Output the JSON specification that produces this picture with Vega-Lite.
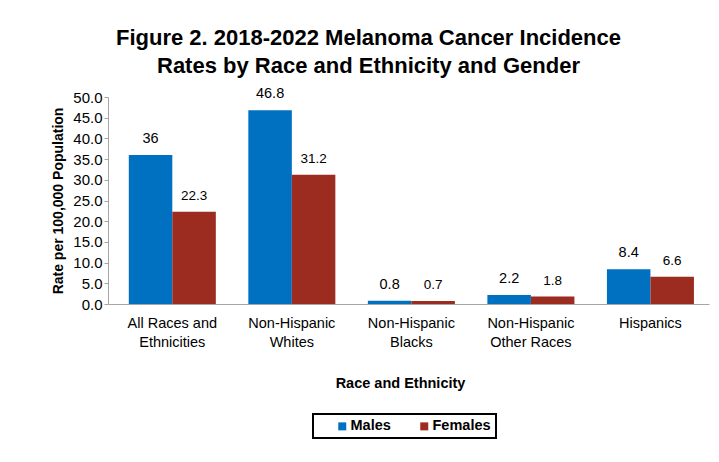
{
  "$schema": "https://vega.github.io/schema/vega-lite/v6.json",
  "width": 601,
  "height": 207,
  "autosize": {"type": "none"},
  "padding": {"left": 108, "top": 97, "right": 10, "bottom": 158},
  "background": "white",
  "config": {
    "font": "Liberation Sans",
    "view": {"stroke": null}
  },
  "title": {
    "text": ["Figure 2. 2018-2022 Melanoma Cancer Incidence", "Rates by Race and Ethnicity and Gender"],
    "font": "Liberation Sans",
    "fontSize": 22,
    "fontWeight": "bold",
    "color": "black",
    "anchor": "middle",
    "dx": -40,
    "offset": 8,
    "lineHeight": 28
  },
  "data": {
    "values": [
      {"group": "All Races and Ethnicities", "sex": "Males", "rate": 36},
      {"group": "All Races and Ethnicities", "sex": "Females", "rate": 22.3},
      {"group": "Non-Hispanic Whites", "sex": "Males", "rate": 46.8},
      {"group": "Non-Hispanic Whites", "sex": "Females", "rate": 31.2},
      {"group": "Non-Hispanic Blacks", "sex": "Males", "rate": 0.8},
      {"group": "Non-Hispanic Blacks", "sex": "Females", "rate": 0.7},
      {"group": "Non-Hispanic Other Races", "sex": "Males", "rate": 2.2},
      {"group": "Non-Hispanic Other Races", "sex": "Females", "rate": 1.8},
      {"group": "Hispanics", "sex": "Males", "rate": 8.4},
      {"group": "Hispanics", "sex": "Females", "rate": 6.6}
    ]
  },
  "encoding": {
    "x": {
      "field": "group",
      "type": "nominal",
      "sort": null,
      "scale": {"paddingInner": 0.272, "paddingOuter": 0.15, "align": 0.58},
      "axis": {
        "title": "Race and Ethnicity",
        "titleFontSize": 14.5,
        "titleFontWeight": "bold",
        "titleColor": "black",
        "titlePadding": 28,
        "titleX": 292,
        "labelAngle": 0,
        "labelFontSize": 14.5,
        "labelColor": "black",
        "labelPadding": 12,
        "labelLineHeight": 19,
        "ticks": false,
        "domainColor": "#a6a6a6",
        "labelExpr": "datum.label == 'All Races and Ethnicities' ? ['All Races and', 'Ethnicities'] : datum.label == 'Non-Hispanic Whites' ? ['Non-Hispanic', 'Whites'] : datum.label == 'Non-Hispanic Blacks' ? ['Non-Hispanic', 'Blacks'] : datum.label == 'Non-Hispanic Other Races' ? ['Non-Hispanic', 'Other Races'] : datum.label"
      }
    },
    "xOffset": {"field": "sex", "type": "nominal", "sort": ["Males", "Females"]},
    "y": {
      "field": "rate",
      "type": "quantitative",
      "scale": {"domain": [0, 50]},
      "axis": {
        "title": "Rate per 100,000 Population",
        "titleFontSize": 14,
        "titleFontWeight": "bold",
        "titleColor": "black",
        "titlePadding": 7,
        "format": ".1f",
        "values": [0, 5, 10, 15, 20, 25, 30, 35, 40, 45, 50],
        "labelFontSize": 15,
        "labelColor": "black",
        "labelPadding": 2,
        "grid": false,
        "domainColor": "#a6a6a6",
        "tickColor": "#a6a6a6",
        "tickSize": 4
      }
    }
  },
  "layer": [
    {
      "mark": {"type": "bar"},
      "encoding": {
        "color": {
          "field": "sex",
          "type": "nominal",
          "sort": ["Males", "Females"],
          "scale": {"domain": ["Males", "Females"], "range": ["#0070C0", "#9C2B20"]},
          "legend": {
            "title": null,
            "orient": "none",
            "direction": "horizontal",
            "legendX": 205,
            "legendY": 317,
            "symbolType": "square",
            "symbolSize": 64,
            "symbolStrokeWidth": 0,
            "symbolOffset": 17,
            "labelOffset": 1,
            "labelFontSize": 14.5,
            "labelFontWeight": "bold",
            "labelColor": "black",
            "labelExpr": "datum.label == 'Females' ? 'Females\u00a0\u00a0\u00a0' : datum.label",
            "columnPadding": 9,
            "strokeColor": "black",
            "padding": 5,
            "fillColor": "white",
            "encode": {"legend": {"update": {"strokeWidth": {"value": 2}}}}
          }
        }
      }
    },
    {
      "mark": {"type": "text", "baseline": "bottom", "dy": -9, "color": "black"},
      "encoding": {
        "text": {"field": "rate", "type": "quantitative"},
        "size": {"condition": {"test": "datum.sex == 'Males'", "value": 14.5}, "value": 13.5}
      }
    }
  ]
}
